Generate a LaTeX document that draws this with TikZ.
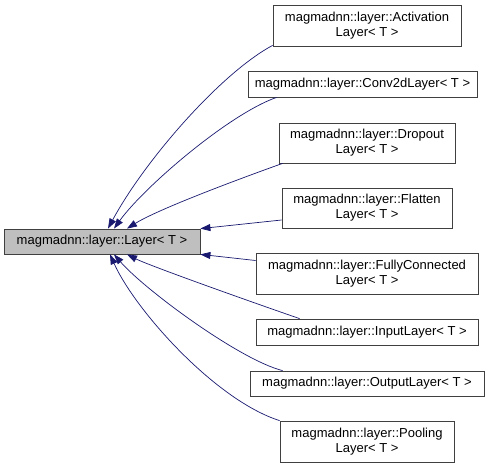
\documentclass[tikz,border=0pt]{standalone}
\usepackage{fontspec}
\setmainfont{Liberation Sans}
\usetikzlibrary{arrows.meta}

\begin{document}
\begin{tikzpicture}[x=1pt, y=-1pt,
  cls/.style={draw=black!75, line width=0.8pt, fill=white, align=center,
    inner sep=0pt, font=\fontsize{13}{15}\selectfont},
  base/.style={cls, fill=black!25},
  inherit/.style={draw={rgb,255:red,25;green,25;blue,112}, line width=0.7pt,
    -{Triangle[length=10pt,width=7pt]}}]

  \useasboundingbox (0,0) rectangle (492,468);

  \node[base, minimum width=196pt, minimum height=25pt] (layer) at (102,241.5) {magmadnn::layer::Layer< T >};

  \node[cls, minimum width=188pt, minimum height=41pt] (act) at (367,25.5) {magmadnn::layer::Activation\\Layer< T >};
  \node[cls, minimum width=229pt, minimum height=26pt] (conv) at (362.5,84) {magmadnn::layer::Conv2dLayer< T >};
  \node[cls, minimum width=176pt, minimum height=40pt] (drop) at (367,143) {magmadnn::layer::Dropout\\Layer< T >};
  \node[cls, minimum width=170pt, minimum height=40pt] (flat) at (367,208) {magmadnn::layer::Flatten\\Layer< T >};
  \node[cls, minimum width=222pt, minimum height=41pt] (fc) at (367,273.5) {magmadnn::layer::FullyConnected\\Layer< T >};
  \node[cls, minimum width=222pt, minimum height=26pt] (inp) at (367,332) {magmadnn::layer::InputLayer< T >};
  \node[cls, minimum width=234pt, minimum height=25pt] (outp) at (367,383.5) {magmadnn::layer::OutputLayer< T >};
  \node[cls, minimum width=174pt, minimum height=41pt] (pool) at (367,441.5) {magmadnn::layer::Pooling\\Layer< T >};

  \draw[inherit] ([yshift=1pt]act.south west) .. controls (221,73) and (145,160) .. ([xshift=6pt]layer.north);
  \draw[inherit] ([xshift=29pt]conv.south west) .. controls (229,114) and (144,187) .. ([xshift=12pt]layer.north);
  \draw[inherit] ([xshift=4pt]drop.south west) .. controls (250,175) and (160,208) .. ([xshift=25pt]layer.north);
  \draw[inherit] ([yshift=-12pt]flat.west) -- (layer.north east);
  \draw[inherit] ([yshift=13pt]fc.west) -- (layer.south east);
  \draw[inherit] ([xshift=44pt]inp.north west) .. controls (260,305) and (150,266) .. ([xshift=25pt]layer.south);
  \draw[inherit] ([xshift=33pt]outp.north west) .. controls (240,360) and (145,290) .. ([xshift=12pt]layer.south);
  \draw[inherit] (pool.north west) .. controls (215,400) and (135,310) .. ([xshift=8pt]layer.south);

\end{tikzpicture}
\end{document}
